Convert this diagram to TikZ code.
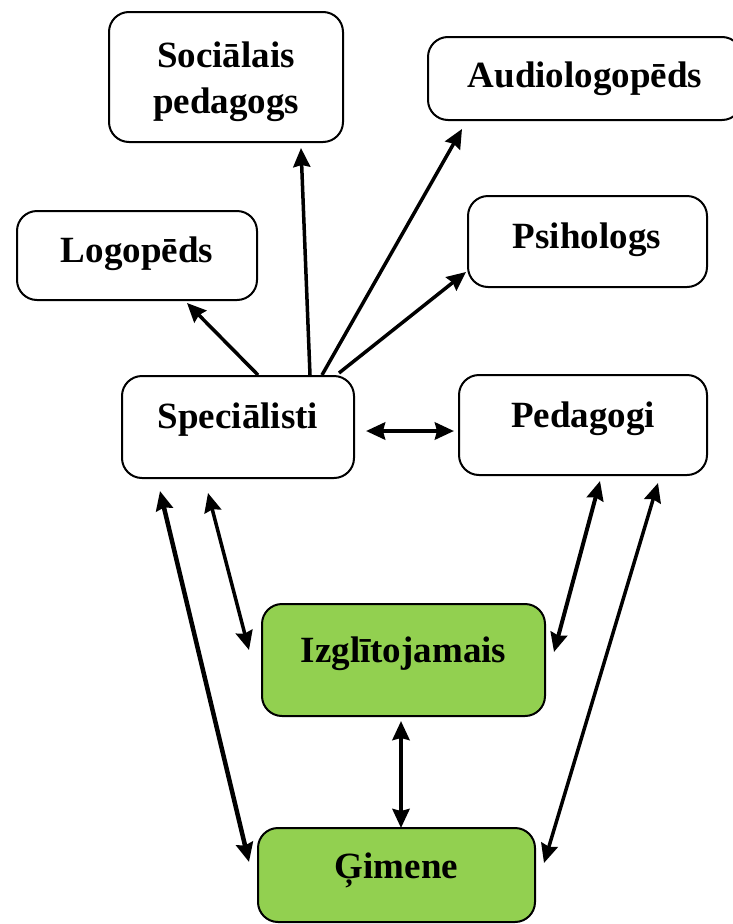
\documentclass[tikz,border=0pt]{standalone}
\usepackage{fontspec}
\setmainfont{Liberation Serif}
\usetikzlibrary{arrows.meta}
\definecolor{boxgreen}{HTML}{92D050}
\begin{document}
\begin{tikzpicture}[x=1pt,y=-1pt,
  box/.style={draw=black, line width=2pt, rounded corners=20pt, inner sep=0pt, fill=white},
  gbox/.style={box, fill=boxgreen},
  txt/.style={font=\fontsize{37}{46}\selectfont\bfseries, inner sep=0pt, anchor=base},
  tip/.tip={Stealth[length=19pt,width=17pt,inset=2pt]},
  arr/.style={line width=3.5pt, -tip},
  darr/.style={line width=3.5pt, tip-tip}
]
\useasboundingbox (0,0) rectangle (733,924);
% boxes
\node[box, minimum width=234pt, minimum height=130pt] (soc) at (226,77) {};
\node[box, minimum width=314pt, minimum height=83pt] (aud) at (585,78.5) {};
\node[box, minimum width=240pt, minimum height=89pt] (logo) at (137,255.5) {};
\node[box, minimum width=239pt, minimum height=91pt] (psi) at (587.5,241.5) {};
\node[box, minimum width=232pt, minimum height=102pt] (spec) at (238,427) {};
\node[box, minimum width=248pt, minimum height=100pt] (ped) at (583,425) {};
\node[gbox, minimum width=283pt, minimum height=112pt] (izg) at (403.5,660) {};
\node[gbox, minimum width=277pt, minimum height=94pt] (gim) at (396.5,875) {};
% texts
\node[txt] (soct1) at (226,67) {Sociālais};
\node[txt] (soct2) at (226,113) {pedagogs};
\node[txt] (audt) at (585,87) {Audiologopēds};
\node[txt] (logot) at (137,262) {Logopēds};
\node[txt] (psit) at (587,248) {Psihologs};
\node[txt] (spect) at (238,428) {Speciālisti};
\node[txt] (pedt) at (583,427) {Pedagogi};
\node[txt] (izgt) at (403.5,662) {Izglītojamais};
\node[txt] (gimt) at (396.5,878) {Ģimene};
% connectors
\draw[arr] ([xshift=20pt]spec.north) -- ([xshift=50pt,yshift=-2pt]logo.south);
\draw[arr] ([xshift=72pt]spec.north) -- ([xshift=75pt,yshift=-5pt]soc.south);
\draw[arr] ([xshift=84pt]spec.north) -- ([xshift=35pt,yshift=-8pt]aud.south west);
\draw[arr] ([xshift=101pt,yshift=2pt]spec.north) -- ([xshift=-1pt,yshift=-30.5pt]psi.west);
\draw[darr, line width=4.5pt] ([xshift=11pt,yshift=-4pt]spec.east) -- ([xshift=-4pt,yshift=-6pt]ped.west);
\draw[darr, line width=4.5pt] ([xshift=-78pt,yshift=-12pt]spec.south) -- ([xshift=-8pt,yshift=13pt]gim.west);
\draw[darr] ([xshift=-30pt,yshift=-14pt]spec.south) -- ([xshift=-12pt,yshift=10pt]izg.west);
\draw[darr, line width=4pt] ([xshift=17pt,yshift=-5pt]ped.south) -- ([xshift=8pt,yshift=8pt]izg.east);
\draw[darr] ([xshift=75pt,yshift=-7pt]ped.south) -- ([xshift=8pt,yshift=12pt]gim.east);
\draw[darr, line width=4pt] ([xshift=-2.5pt,yshift=-4pt]izg.south) -- ([xshift=4.5pt,yshift=-1pt]gim.north);
\end{tikzpicture}
\end{document}
